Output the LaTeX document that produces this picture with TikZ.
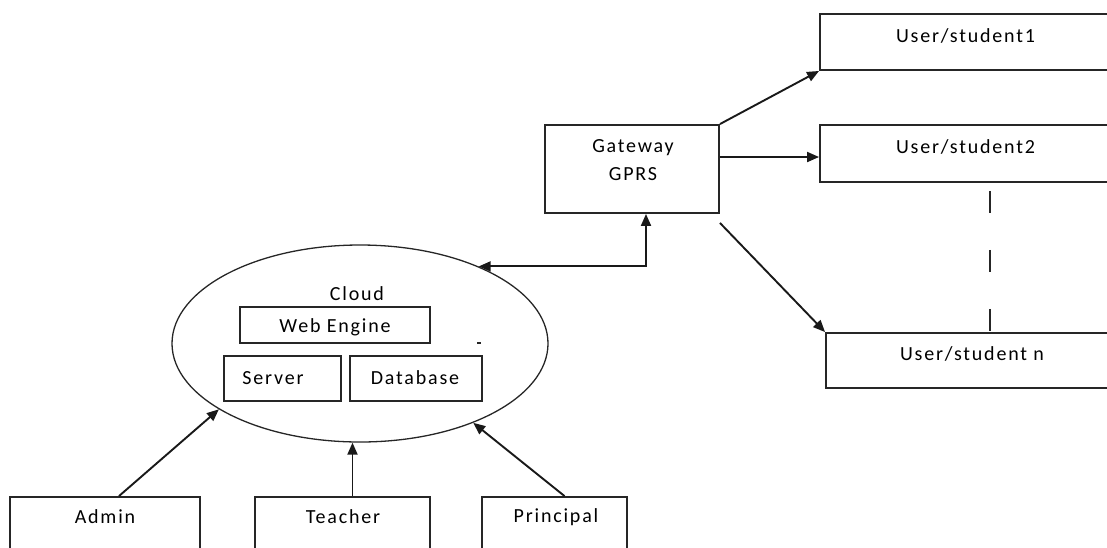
\documentclass[tikz,border=0pt]{standalone}
\usepackage{fontspec}
\setmainfont{Carlito}[LetterSpace=9]
\usetikzlibrary{shapes.geometric,arrows.meta,calc}
\begin{document}
\begin{tikzpicture}[x=1pt,y=-1pt,
  box/.style={draw, line width=1.9pt, rectangle, inner sep=0pt, color=black!85},
  txt/.style={inner sep=0pt, font=\fontsize{20}{24}\selectfont, text=black},
  arr/.style={line width=1.9pt, color=black!90, -{Triangle[length=12pt,width=10pt]}},
  dbl/.style={line width=1.9pt, color=black!90, {Triangle[length=12pt,width=10pt]}-{Triangle[length=12pt,width=10pt]}}]
\useasboundingbox (0,0) rectangle (1107,547);
% boxes
\node[box, minimum width=174pt, minimum height=88pt] (gw) at (632,169) {};
\node[box, minimum width=295pt, minimum height=56pt] (s1) at (967.5,42) {};
\node[box, minimum width=295pt, minimum height=57pt] (s2) at (967.5,153.5) {};
\node[box, minimum width=289pt, minimum height=55pt] (sn) at (970.5,360.5) {};
\node[box, minimum width=190pt, minimum height=63pt] (admin) at (105,528.5) {};
\node[box, minimum width=175pt, minimum height=63pt] (teacher) at (342.5,528.5) {};
\node[box, minimum width=145pt, minimum height=63pt] (principal) at (554.5,528.5) {};
\node[draw, ellipse, line width=1.3pt, color=black!85, inner sep=0pt, minimum width=376pt, minimum height=197pt] (cloud) at (360,343.5) {};
\node[box, minimum width=190pt, minimum height=36pt] (web) at (335,325) {};
\node[box, minimum width=117pt, minimum height=45pt] (server) at (282.5,378.5) {};
\node[box, minimum width=132pt, minimum height=45pt] (db) at (416,378.5) {};
% texts
\node[txt] (t-gw1) at (633,148) {Gateway};
\node[txt] (t-gw2) at (633,174) {GPRS};
\node[txt] (t-s1) at (965.5,36) {User/student1};
\node[txt] (t-s2) at (965.5,147) {User/student2};
\node[txt] (t-sn) at (972,354) {User/student n};
\node[txt] (t-cloud) at (357,294) {Cloud};
\node[txt] (t-web) at (335,327) {Web Engine};
\node[txt] (t-server) at (273,378) {Server};
\node[txt] (t-db) at (415,378) {Database};
\node[txt] (t-admin) at (105,517) {Admin};
\node[txt] (t-teacher) at (343,517) {Teacher};
\node[txt] (t-principal) at (556,517) {Principal};
% connectors
\draw[arr] (gw.north east) -- (s1.south west);
\coordinate (g2) at ($(gw.east)+(0,-12)$);
\draw[arr] (g2) -- (g2 -| s2.west);
\coordinate (g3) at ($(gw.south east)+(0,9)$);
\draw[arr] (g3) -- (sn.north west);
\coordinate (gin) at ($(gw.south)+(14,0)$);
\draw[dbl] (cloud.33) -| (gin);
\coordinate (ad) at ($(admin.north)+(14,0)$);
\draw[arr] (ad) -- (cloud.205);
\coordinate (te) at ($(teacher.north)+(10,0)$);
\draw[arr] (te) -- (te |- cloud.south);
\coordinate (pr) at ($(principal.north)+(10,0)$);
\draw[arr] (pr) -- (cloud.325);
\coordinate (dtop) at ($(s2.south west)+(171,8)$);
\draw[line width=2pt, color=black!85, dash pattern=on 22pt off 37pt] (dtop) -- (dtop |- sn.north);
\draw[line width=1.4pt, color=black!85] (477,343) -- (481,343);
\end{tikzpicture}
\end{document}
